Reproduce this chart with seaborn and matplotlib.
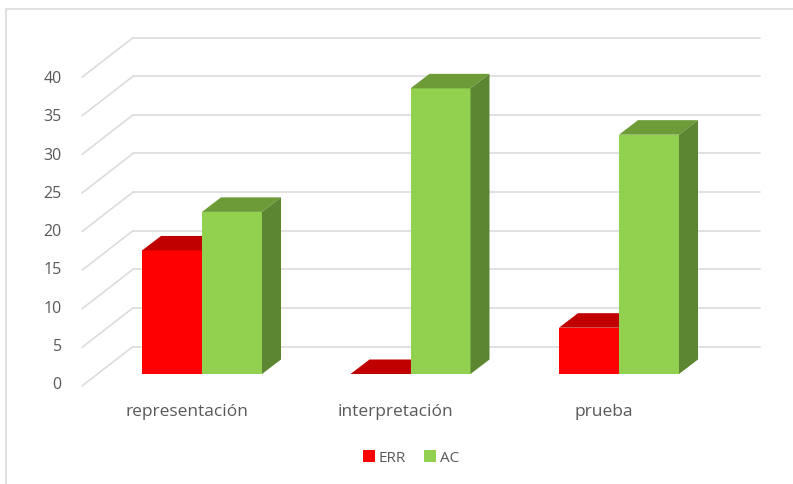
import matplotlib
matplotlib.use("Agg")
import matplotlib.pyplot as plt
from matplotlib.lines import Line2D
from matplotlib.patches import Polygon
from matplotlib.transforms import ScaledTranslation
import pandas as pd
import seaborn as sns

# Chart values
categories = ["representación", "interpretación", "prueba"]
err_values = [16, 0, 6]
ac_values = [21, 37, 31]
y_ticks = [0, 5, 10, 15, 20, 25, 30, 35, 40]

# Colours: front, top and side face of each series
FACES = {
    "ERR": ("#FF0000", "#C00000", "#A80000"),
    "AC": ("#92D050", "#6C9B38", "#5C8632"),
}
GRID = "#DCDCDC"
TEXT = "#595959"

# Figure layout, in pixels
W, H = 793, 484
PX_PER_CAT = 208.5
PX_PER_UNIT = 7.72
LEFT, RIGHT, TOP, BASE = 82, 760, 20, 374
FIRST_CAT = 202
BAR_PX = 60

sns.set_theme(style="white")
plt.rcParams["font.family"] = ["Open Sans", "DejaVu Sans"]

fig = plt.figure(figsize=(W / 100, H / 100), dpi=100, facecolor="white")
ax = fig.add_axes([LEFT / W, 1 - BASE / H, (RIGHT - LEFT) / W, (BASE - TOP) / H])
ax.patch.set_alpha(0)


def dx(px):
    return px / PX_PER_CAT


def dy(px):
    return px / PX_PER_UNIT


df = pd.DataFrame({
    "categoria": categories * 2,
    "serie": ["ERR"] * len(categories) + ["AC"] * len(categories),
    "valor": err_values + ac_values,
})

sns.barplot(
    data=df, x="categoria", y="valor", hue="serie", hue_order=["ERR", "AC"],
    palette={k: v[0] for k, v in FACES.items()}, width=2 * BAR_PX / PX_PER_CAT,
    saturation=1, linewidth=0, ax=ax, zorder=3, legend=True,
)
ax.set_xlim((LEFT - FIRST_CAT) / PX_PER_CAT, (RIGHT - FIRST_CAT) / PX_PER_CAT)
ax.set_ylim(0, (BASE - TOP) / PX_PER_UNIT)

# Back wall gridlines and the floor-to-wall diagonals
x_left = ax.get_xlim()[0]
x_back = x_left + dx(51)
x_right = ax.get_xlim()[1]
for v in y_ticks:
    ax.plot([x_back, x_right], [v + dy(27.5)] * 2, color=GRID, lw=1.2, zorder=1, clip_on=False)
    ax.plot([x_left, x_back], [v - dy(12), v + dy(27.5)], color=GRID, lw=1.2, zorder=1, clip_on=False)

# Depth faces for every bar, built from the bar's own geometry
DEPTH_X, DEPTH_Y = dx(19), dy(14.5)
for container, name in zip(ax.containers, ["ERR", "AC"]):
    front, top, side = FACES[name]
    z = 2.5 if name == "ERR" else 3.5
    for bar in container:
        x0, x1, h = bar.get_x(), bar.get_x() + bar.get_width(), bar.get_height()
        bar.set_zorder(z)
        ax.add_patch(Polygon(
            [(x0, h), (x1, h), (x1 + DEPTH_X, h + DEPTH_Y), (x0 + DEPTH_X, h + DEPTH_Y)],
            closed=True, facecolor=top, edgecolor="none", zorder=z, clip_on=False,
        ))
        ax.add_patch(Polygon(
            [(x1, 0), (x1 + DEPTH_X, DEPTH_Y), (x1 + DEPTH_X, h + DEPTH_Y), (x1, h)],
            closed=True, facecolor=side, edgecolor="none", zorder=z, clip_on=False,
        ))

sns.despine(ax=ax, left=True, bottom=True)
ax.set_xlabel("")
ax.set_ylabel("")
ax.set_yticks(y_ticks)
ax.set_xticks(range(len(categories)))
ax.set_xticklabels(categories)
ax.tick_params(axis="y", length=0, pad=14.5, labelsize=11.5, labelcolor=TEXT)
ax.tick_params(axis="x", length=0, pad=21.5, labelsize=12.5, labelcolor=TEXT)

# Axis labels sit on the front plane rather than on the bar baseline
for v, label in zip(y_ticks, ax.get_yticklabels()):
    drop = (9 + 0.075 * v) / 100
    label.set_transform(label.get_transform() + ScaledTranslation(0, -drop, fig.dpi_scale_trans))
for label in ax.get_xticklabels():
    label.set_transform(label.get_transform() + ScaledTranslation(-15 / 100, 0, fig.dpi_scale_trans))

handles, labels = ax.get_legend_handles_labels()
ax.get_legend().remove()
fig.legend(
    handles, labels, loc="center", bbox_to_anchor=(411 / W, 1 - 458 / H), ncols=2, frameon=False,
    fontsize=11, labelcolor=TEXT, handlelength=0.8, handleheight=0.8, handletextpad=0.25,
    columnspacing=1.2, borderpad=0,
)

# Chart frame: thin rule along the top and left edges
fig.add_artist(Line2D([6 / W, 6 / W], [0, 1 - 9 / H], color=GRID, lw=1.2))
fig.add_artist(Line2D([6 / W, 1], [1 - 9 / H, 1 - 9 / H], color=GRID, lw=1.2))

fig.savefig("out.png", dpi=100)
